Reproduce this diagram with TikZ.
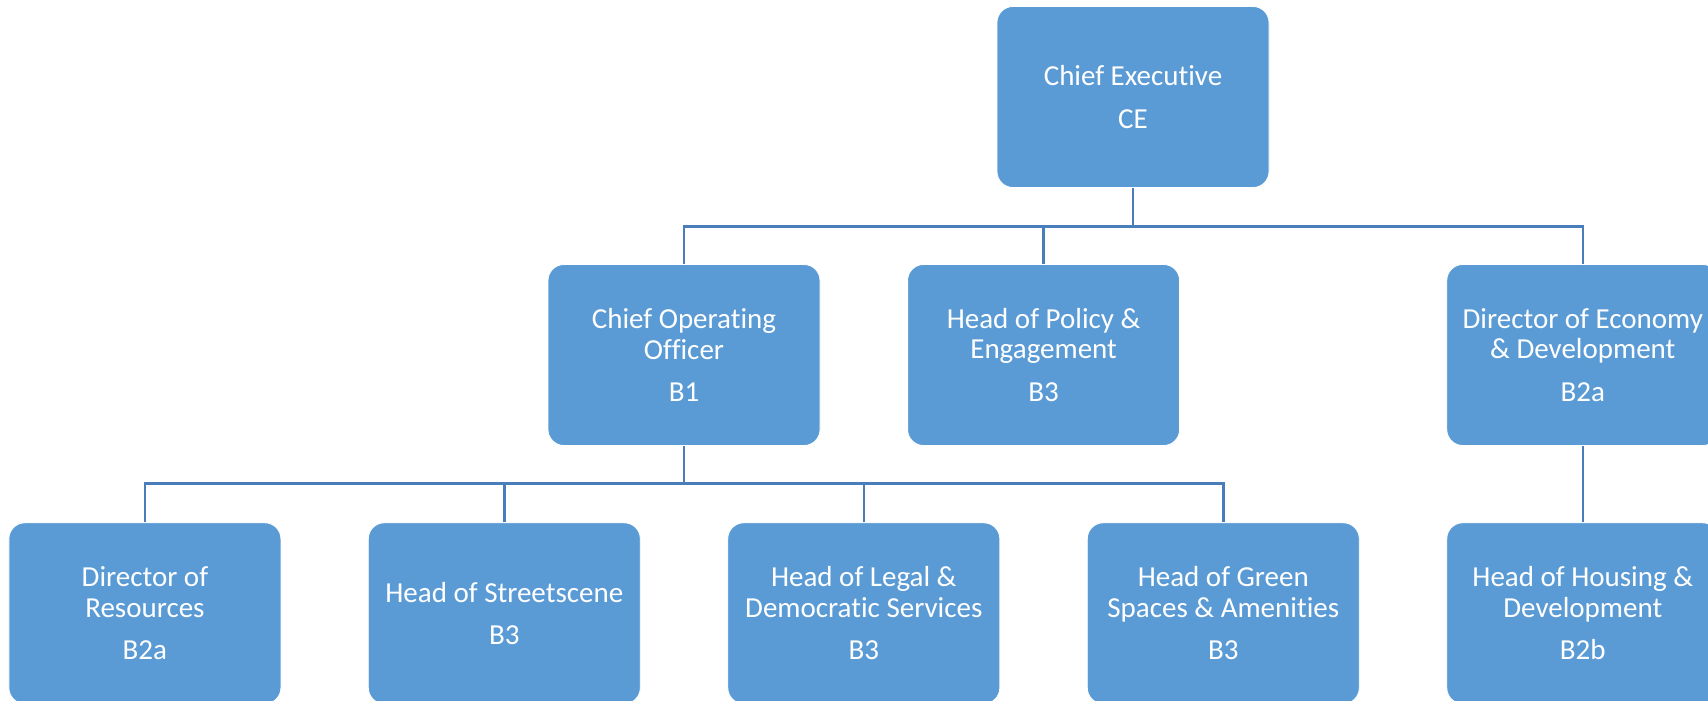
\documentclass[tikz,border=0pt]{standalone}
\usepackage{fontspec}
\setmainfont{Carlito}[Ligatures=NoCommon]
\definecolor{boxblue}{HTML}{5B9BD5}
\definecolor{lineblue}{HTML}{4A7EBB}
\begin{document}
\begin{tikzpicture}[x=1pt,y=-1pt,
  orgbox/.style={draw=white, line width=0.8pt, fill=boxblue, rounded corners=16pt,
    minimum width=272pt, minimum height=181pt, inner sep=0pt, align=center,
    text=white, font=\fontsize{29}{30.5}\selectfont},
  link/.style={draw=lineblue, line width=2.4pt}]
\useasboundingbox (0,0) rectangle (1708,701);
\clip (0,0) rectangle (1708,701);
% nodes
\node[orgbox] (ce) at (1133,97) {Chief Executive\\[12pt]CE};
\node[orgbox] (coo) at (684,355) {Chief Operating\\Officer\\[12pt]B1};
\node[orgbox] (pol) at (1043.6,355) {Head of Policy \&\\Engagement\\[12pt]B3};
\node[orgbox] (eco) at (1582.8,355) {Director of Economy\\\& Development\\[12pt]B2a};
\node[orgbox] (res) at (144.9,613.3) {Director of\\Resources\\[12pt]B2a};
\node[orgbox] (str) at (504.3,613.3) {Head of Streetscene\\[12pt]B3};
\node[orgbox] (leg) at (863.8,613.3) {Head of Legal \&\\Democratic Services\\[12pt]B3};
\node[orgbox] (grn) at (1223.3,613.3) {Head of Green\\Spaces \& Amenities\\[12pt]B3};
\node[orgbox] (hou) at (1582.8,613.3) {Head of Housing \&\\Development\\[12pt]B2b};
% bus coordinates
\coordinate (bus1) at (1133,226.6);
\coordinate (bus2) at (684,483.6);
% connectors
\draw[link] (ce.south) -- (bus1);
\draw[link] (coo.north) |- (bus1);
\draw[link] (pol.north) |- (bus1);
\draw[link] (eco.north) |- (bus1);
\draw[link] (coo.south) -- (bus2);
\draw[link] (res.north) |- (bus2);
\draw[link] (str.north) |- (bus2);
\draw[link] (leg.north) |- (bus2);
\draw[link] (grn.north) |- (bus2);
\draw[link] (eco.south) -- (hou.north);
\end{tikzpicture}
\end{document}
